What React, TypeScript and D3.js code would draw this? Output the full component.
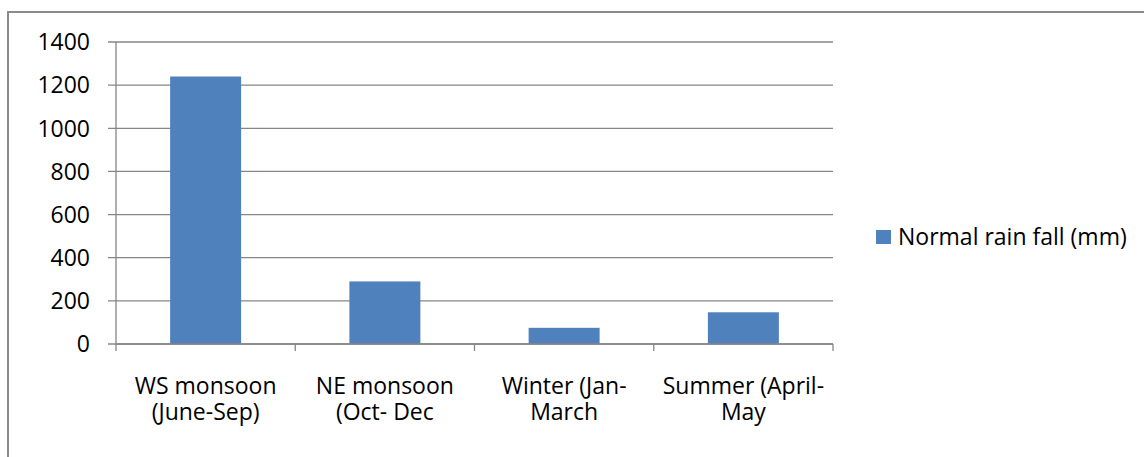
import * as d3 from 'd3';

const width = 1144;
const height = 457;
const marginTop = 42;
const marginLeft = 116;
const plotRight = 833;
const plotBottom = 344;

const categories = ['WS monsoon|(June-Sep)', 'NE monsoon|(Oct- Dec', 'Winter (Jan-|March', 'Summer (April-|May'];
const rainfall = [1240, 290, 75, 147];
const yTicks = [0, 200, 400, 600, 800, 1000, 1200, 1400];
const seriesName = 'Normal rain fall (mm)';

const barColor = '#4f81bd';
const axisColor = '#868686';
const font = '"Open Sans", sans-serif';

export default function App() {
  const x = d3
    .scaleBand<string>()
    .domain(categories)
    .range([marginLeft, plotRight])
    .paddingInner(0.604)
    .paddingOuter(0.302);

  const y = d3.scaleLinear().domain([0, 1400]).range([plotBottom, marginTop]);

  const step = x.step();
  // category boundaries for the x tick marks
  const xBounds = d3.range(categories.length + 1).map((i) => marginLeft + i * step);

  return (
    <svg
      width={width}
      height={height}
      style={{ position: 'absolute', left: 0, top: 0, background: '#fff' }}
      fontFamily={font}
    >
      {/* chart frame */}
      <rect x={8} y={12} width={1150} height={460} fill="#fff" stroke="#8a8a8a" strokeWidth={2} />

      {/* gridlines + y ticks */}
      {yTicks.map((t) => (
        <g key={t}>
          <line x1={marginLeft - 8} x2={plotRight} y1={y(t)} y2={y(t)} stroke={axisColor} strokeWidth={1.3} />
          <text x={90} y={y(t)} dy="0.36em" textAnchor="end" fontSize={23} fill="#000">
            {t}
          </text>
        </g>
      ))}

      {/* y axis */}
      <line x1={marginLeft} x2={marginLeft} y1={marginTop} y2={plotBottom} stroke={axisColor} strokeWidth={1.3} />

      {/* bars */}
      {categories.map((c, i) => (
        <rect
          key={c}
          x={x(c)}
          y={y(rainfall[i])}
          width={x.bandwidth()}
          height={y(0) - y(rainfall[i])}
          fill={barColor}
        />
      ))}

      {/* x axis */}
      <line x1={marginLeft} x2={plotRight} y1={plotBottom} y2={plotBottom} stroke={axisColor} strokeWidth={1.5} />
      {xBounds.map((bx, i) => (
        <line key={i} x1={bx} x2={bx} y1={plotBottom} y2={plotBottom + 7} stroke={axisColor} strokeWidth={1.3} />
      ))}

      {/* x labels */}
      {categories.map((c) => {
        const cx = (x(c) ?? 0) + x.bandwidth() / 2;
        return (
          <text key={c} textAnchor="middle" fontSize={23} fill="#000">
            {c.split('|').map((line, j) => (
              <tspan key={j} x={cx} y={394 + j * 26}>
                {line}
              </tspan>
            ))}
          </text>
        );
      })}

      {/* legend */}
      <rect x={876} y={230} width={15} height={14} fill={barColor} />
      <text x={898} y={237} dy="0.36em" fontSize={23} fill="#000">
        {seriesName}
      </text>
    </svg>
  );
}
